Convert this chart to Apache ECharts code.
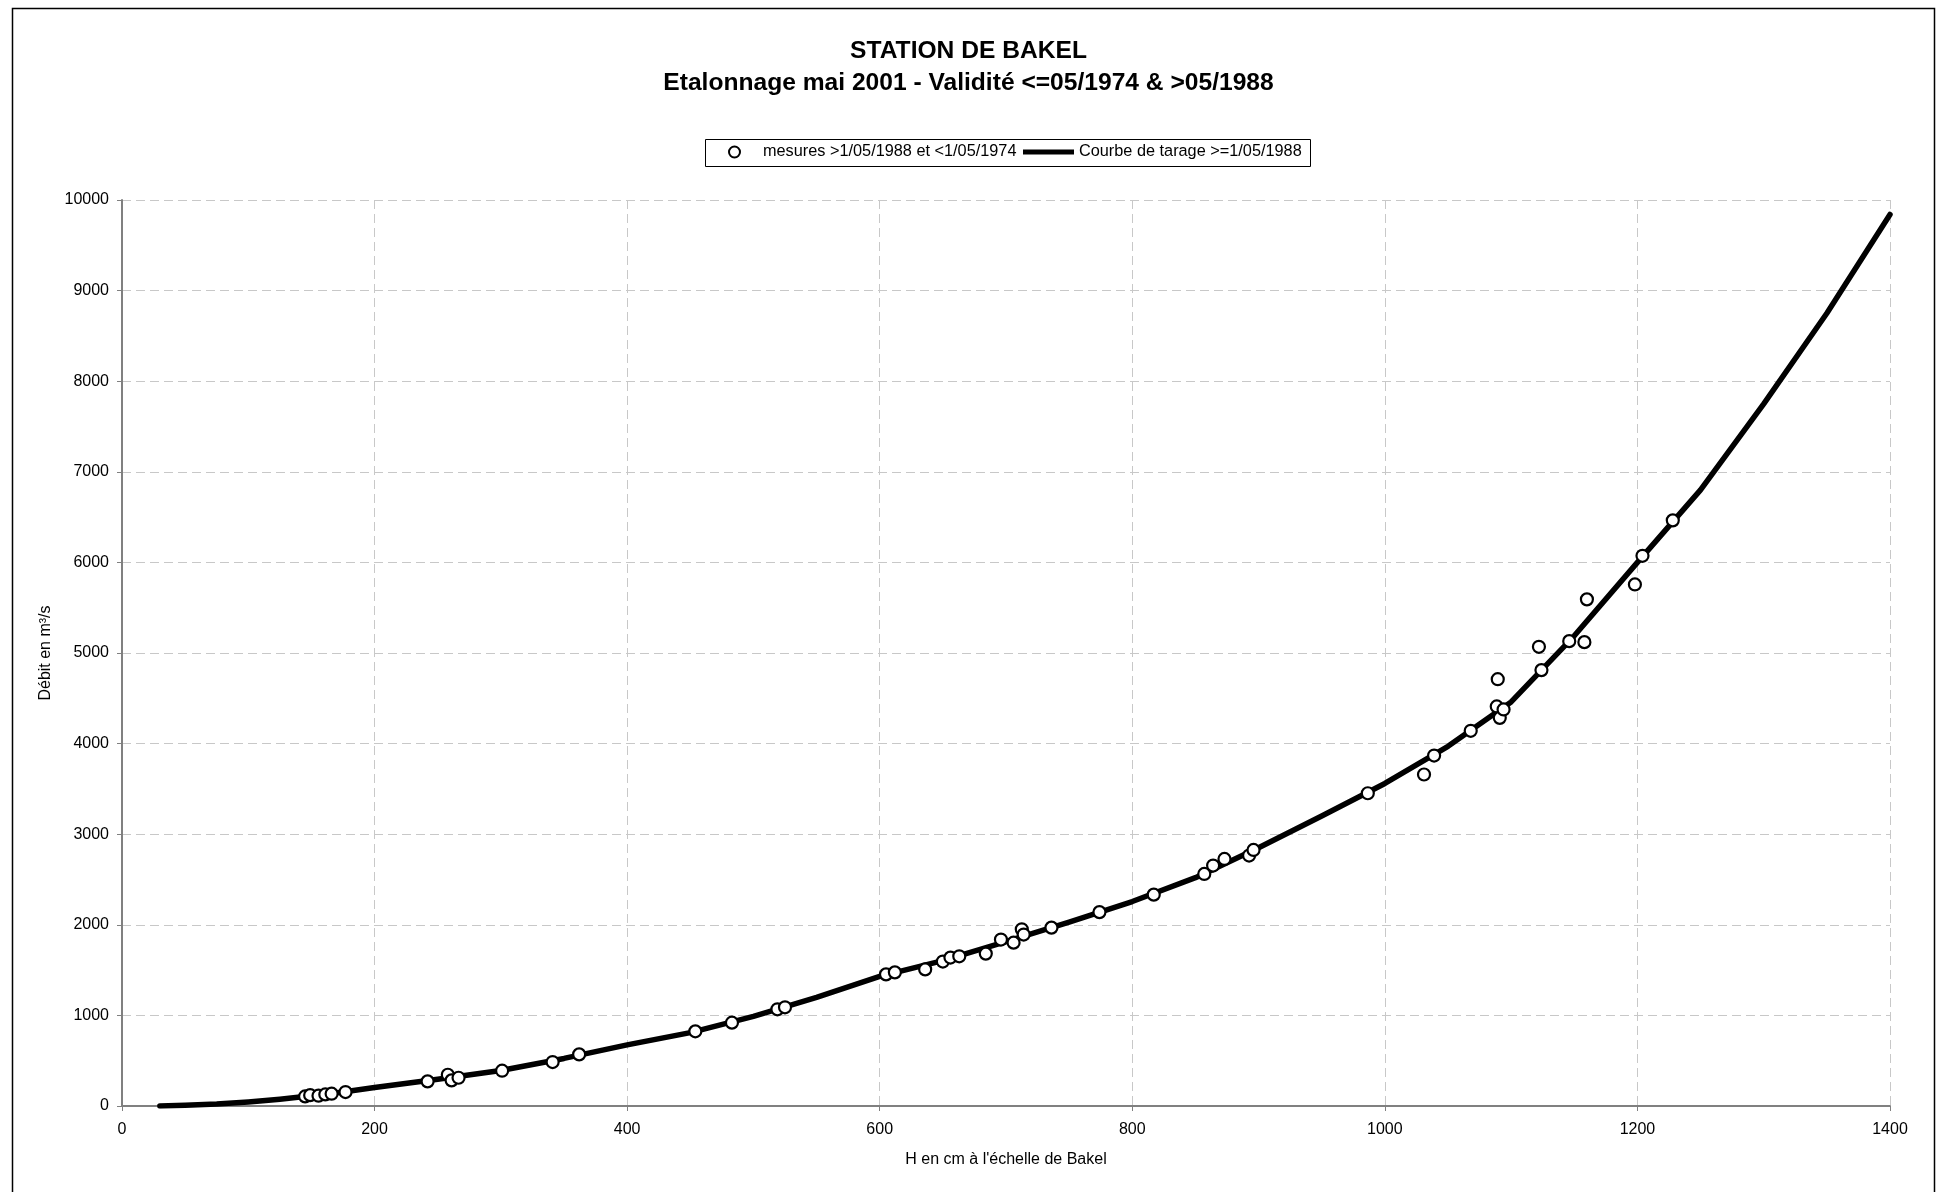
<!DOCTYPE html>
<html>
<head>
<meta charset="utf-8">
<title>Station de Bakel</title>
<script src="https://cdn.jsdelivr.net/npm/echarts@6/dist/echarts.min.js"></script>
<style>
  html, body { margin: 0; padding: 0; background: #fff; }
  #chart { width: 1937px; height: 1192px; }
</style>
</head>
<body>
<div id="chart"></div>
<script>
// mesures (H en cm, débit en m3/s)
var mesuresH = [145, 149, 155.6, 161, 166, 177, 242, 258, 261, 266.5, 301, 341, 362,
  454, 483, 519, 525, 605, 612, 636, 650, 656, 663, 684, 696, 706, 712.5, 714, 736,
  774, 817, 857, 864, 873, 892.5, 896, 986.5, 1031, 1039, 1068, 1088.6, 1089.4, 1091,
  1094, 1122, 1124, 1146, 1158, 1160, 1198, 1204, 1228]
var mesuresQ = [106, 120, 114, 128, 136, 154, 272, 345, 283, 312, 390, 485, 570,
  824, 920, 1067, 1089, 1453, 1475, 1508, 1594, 1638, 1652, 1682, 1837, 1803, 1950, 1892, 1969,
  2140, 2333, 2561, 2654, 2727, 2764, 2826, 3452, 3659, 3868, 4141, 4410, 4711, 4284,
  4377, 5068, 4811, 5131, 5120, 5592, 5757, 6073, 6464]

// courbe de tarage
var courbeH = [30, 50, 75, 100, 125, 150, 175, 200, 250, 300, 350, 400, 450, 500, 550, 600,
  650, 700, 750, 800, 850, 900, 950, 1000, 1050, 1100, 1150, 1200, 1250, 1300, 1350, 1400]
var courbeQ = [0, 8, 22, 45, 75, 112, 155, 205, 295, 392, 525, 675, 810, 990, 1200, 1430,
  1605, 1815, 2030, 2257, 2520, 2850, 3200, 3560, 3970, 4460, 5190, 6000, 6800, 7750, 8750, 9840]

var nomMesures = 'mesures >1/05/1988 et <1/05/1974'
var nomCourbe = 'Courbe de tarage >=1/05/1988'

var police = "'Liberation Sans', Arial, sans-serif"

var chart = echarts.init(document.getElementById('chart'))

var axeCommun = {
  nameLocation: 'middle',
  nameTextStyle: { color: '#000', fontSize: 16, fontFamily: police },
  axisLine: { onZero: false, lineStyle: { color: '#808080', width: 2 } },
  axisTick: { show: true, length: 5, lineStyle: { color: '#808080', width: 1 } },
  splitLine: { show: true, lineStyle: { color: '#c8c8c8', width: 1, type: [9, 5] } }
}

function sansSeparateur(v) {
  return String(v)
}

chart.setOption({
  animation: false,
  backgroundColor: '#fff',
  textStyle: { fontFamily: police },
  title: {
    text: 'STATION DE BAKEL\nEtalonnage mai 2001 - Validité <=05/1974 & >05/1988',
    left: 'center',
    top: 35,
    padding: 0,
    textStyle: { fontSize: 24.6, fontWeight: 'bold', color: '#000', lineHeight: 32, fontFamily: police }
  },
  legend: [
    {
      data: [{ name: nomMesures, icon: 'circle' }],
      left: 728,
      top: 144,
      padding: 0,
      itemWidth: 11,
      itemHeight: 11,
      textStyle: { fontSize: 16.3, color: '#000', fontFamily: police, padding: [0, 0, 0, 18] }
    },
    {
      data: [{ name: nomCourbe, icon: 'rect' }],
      left: 1023,
      top: 144,
      padding: 0,
      itemWidth: 51,
      itemHeight: 5,
      textStyle: { fontSize: 16.3, color: '#000', fontFamily: police }
    }
  ],
  graphic: [
    // cadre du graphique
    { type: 'rect', left: 10, top: 6, shape: { width: 1922, height: 1250 },
      style: { fill: 'none', stroke: '#000', lineWidth: 1.5 }, silent: true },
    // cadre de la légende
    { type: 'rect', left: 703, top: 137, shape: { width: 605, height: 27 },
      style: { fill: 'none', stroke: '#000', lineWidth: 1 }, silent: true }
  ],
  grid: { left: 122, right: 47, top: 200, bottom: 86, containLabel: false },
  xAxis: Object.assign({}, axeCommun, {
    type: 'value',
    name: "H en cm à l'échelle de Bakel",
    nameGap: 46,
    min: 0,
    max: 1400,
    interval: 200,
    axisLabel: { color: '#000', fontSize: 16, fontFamily: police, margin: 16, formatter: sansSeparateur }
  }),
  yAxis: Object.assign({}, axeCommun, {
    type: 'value',
    name: 'Débit en m³/s',
    nameGap: 60,
    min: 0,
    max: 10000,
    interval: 1000,
    axisLabel: { color: '#000', fontSize: 16, fontFamily: police, margin: 13, formatter: sansSeparateur }
  }),
  series: [
    {
      name: nomCourbe,
      type: 'line',
      data: courbeH.map(function (h, i) { return [h, courbeQ[i]] }),
      showSymbol: false,
      symbol: 'none',
      color: '#000',
      lineStyle: { color: '#000', width: 5.5, cap: 'round', join: 'round' },
      z: 2
    },
    {
      name: nomMesures,
      type: 'scatter',
      data: mesuresH.map(function (h, i) { return [h, mesuresQ[i]] }),
      symbol: 'circle',
      symbolSize: 12,
      itemStyle: { color: '#fff', borderColor: '#000', borderWidth: 2.2, opacity: 1 },
      z: 3
    }
  ]
})
</script>
</body>
</html>
